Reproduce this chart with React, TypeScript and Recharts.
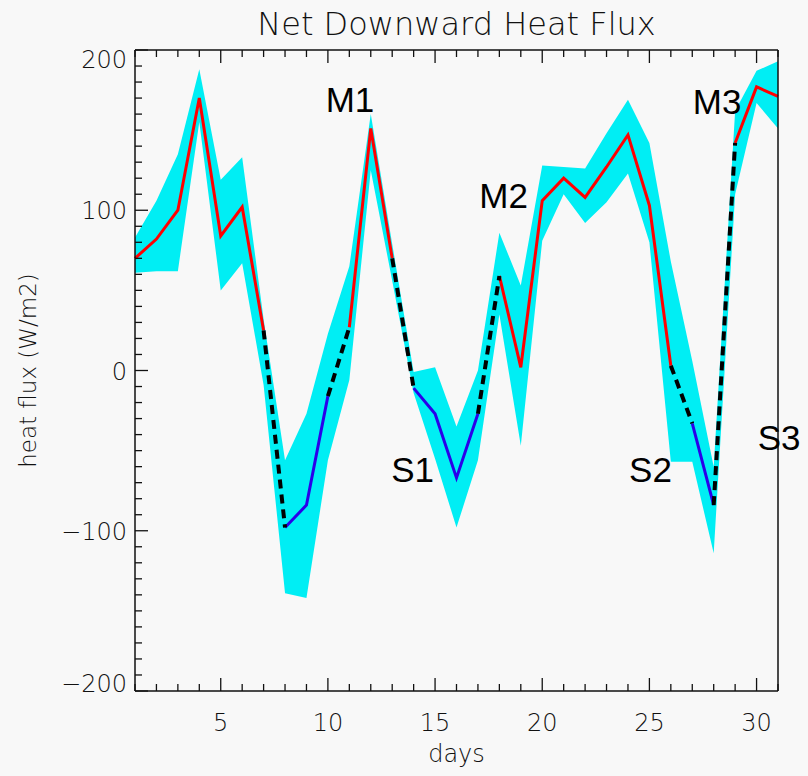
import React from "react";
import { ComposedChart, Area, Line, XAxis, YAxis, ReferenceDot } from "recharts";

// daily values
const days = [1, 2, 3, 4, 5, 6, 7, 8, 9, 10, 11, 12, 13, 14, 15, 16, 17, 18, 19, 20, 21, 22, 23, 24, 25, 26, 27, 28, 29, 30, 31];
const flux = [70, 82, 100, 170, 84, 102, 25, -98, -84, -16, 27, 151, 70, -11, -27, -67, -27, 59, 2, 106, 120, 108, 127, 147, 103, 3, -33, -84, 142, 177, 171];
const fluxHigh = [83, 106, 135, 188, 119, 133, 32, -56, -27, 23, 65, 160, 79, -1, 2, -35, 0, 86, 53, 128, 127, 126, 148, 169, 142, 68, 6, -60, 162, 187, 193];
const fluxLow = [61, 62, 62, 155, 50, 67, -9, -139, -142, -56, -6, 125, 56, -14, -55, -98, -56, 35, -47, 81, 110, 92, 105, 123, 80, -57, -57, -114, 110, 167, 151];

// phases: M (red), S (blue), transitions (black dashed)
const mSpans = [[1, 7], [11, 13], [18, 26], [29, 31]];
const sSpans = [[8, 10], [14, 17], [27, 28]];
const gapSpans = [[7, 8], [10, 11], [13, 14], [17, 18], [26, 27], [28, 29]];

const xMajor = [5, 10, 15, 20, 25, 30];
const yMajor = [-200, -100, 0, 100, 200];

const phaseLabels = [
  { text: "M1", day: 11.03, value: 169 },
  { text: "M2", day: 18.2, value: 109 },
  { text: "M3", day: 28.16, value: 168 },
  { text: "S1", day: 13.95, value: -62 },
  { text: "S2", day: 25.05, value: -62 },
  { text: "S3", day: 31.05, value: -42 },
];

const inSpan = (d: number, spans: number[][]) => spans.some(([a, b]) => d >= a && d <= b);

const data = days.map((d, i) => {
  const row: any = { day: d, band: [fluxLow[i], fluxHigh[i]], g0: null, g1: null };
  row.m = inSpan(d, mSpans) ? flux[i] : null;
  row.s = inSpan(d, sSpans) ? flux[i] : null;
  gapSpans.forEach(([a, b], k) => {
    if (d >= a && d <= b) row[k % 2 ? "g1" : "g0"] = flux[i];
  });
  return row;
});

const dayTicks = days;
const yTicks: number[] = [];
for (let v = -200; v <= 200; v += 10) yTicks.push(v);

const INK = "#111";
const FONT = "'DejaVu Sans', sans-serif";
const fmt = (v: number) => (v < 0 ? "\u2212" + Math.abs(v) : String(v));

const BottomTick = (props: any) => {
  const { x, y, payload } = props;
  const major = xMajor.includes(payload.value);
  return (
    <g>
      <line x1={x} y1={y} x2={x} y2={y - (major ? 13 : 7)} stroke={INK} strokeWidth={1.3} />
      {major && (
        <text x={x} y={y + 40} textAnchor="middle" fontFamily={FONT} fontWeight={200} fontSize={24} fill={INK}>
          {payload.value}
        </text>
      )}
    </g>
  );
};

const TopTick = (props: any) => {
  const { x, y, payload } = props;
  const major = xMajor.includes(payload.value);
  return <line x1={x} y1={y} x2={x} y2={y + (major ? 13 : 7)} stroke={INK} strokeWidth={1.3} />;
};

const LeftTick = (props: any) => {
  const { x, y, payload } = props;
  const major = yMajor.includes(payload.value);
  const dy = payload.value === 200 ? 18 : payload.value === -200 ? 1 : 9;
  return (
    <g>
      <line x1={x} y1={y} x2={x + (major ? 13 : 7)} y2={y} stroke={INK} strokeWidth={1.3} />
      {major && (
        <text x={x - 8} y={y + dy} textAnchor="end" fontFamily={FONT} fontWeight={200} fontSize={24} fill={INK}>
          {fmt(payload.value)}
        </text>
      )}
    </g>
  );
};

const RightTick = (props: any) => {
  const { x, y, payload } = props;
  const major = yMajor.includes(payload.value);
  return <line x1={x} y1={y} x2={x - (major ? 13 : 7)} y2={y} stroke={INK} strokeWidth={1.3} />;
};

const axisLine = { stroke: INK, strokeWidth: 1.5 };

export default function App() {
  return (
    <div style={{ position: "absolute", left: 0, top: 0, width: 808, height: 776, background: "#f8f8f8" }}>
      <ComposedChart width={808} height={776} data={data} margin={{ top: 49, right: 29, bottom: 0, left: 0 }}>
        <XAxis
          xAxisId="b"
          dataKey="day"
          type="number"
          domain={[1, 31]}
          ticks={dayTicks}
          interval={0}
          height={85}
          axisLine={axisLine}
          tickLine={false}
          tickSize={0}
          tickMargin={0}
          tick={<BottomTick />}
          label={{ value: "days", position: "insideBottom", offset: 14, fontFamily: FONT, fontWeight: 200, fontSize: 24, fill: INK }}
        />
        <XAxis
          xAxisId="t"
          orientation="top"
          dataKey="day"
          type="number"
          domain={[1, 31]}
          ticks={dayTicks}
          interval={0}
          height={1}
          axisLine={axisLine}
          tickLine={false}
          tickSize={0}
          tickMargin={0}
          tick={<TopTick />}
          label={{ value: "Net Downward Heat Flux", position: "top", offset: 14, fontFamily: FONT, fontWeight: 200, fontSize: 32, fill: INK }}
        />
        <YAxis
          yAxisId="l"
          type="number"
          domain={[-200, 200]}
          ticks={yTicks}
          interval={0}
          width={135}
          axisLine={axisLine}
          tickLine={false}
          tickSize={0}
          tickMargin={0}
          tick={<LeftTick />}
          label={{
            value: "heat flux (W/m2)",
            angle: -90,
            position: "insideLeft",
            offset: 28,
            style: { textAnchor: "middle" },
            fontFamily: FONT,
            fontWeight: 200,
            fontSize: 23,
            fill: INK,
          }}
        />
        <YAxis
          yAxisId="r"
          orientation="right"
          type="number"
          domain={[-200, 200]}
          ticks={yTicks}
          interval={0}
          width={1}
          axisLine={axisLine}
          tickLine={false}
          tickSize={0}
          tickMargin={0}
          tick={<RightTick />}
        />
        <Area
          xAxisId="b"
          yAxisId="l"
          type="linear"
          dataKey="band"
          fill="#00eef4"
          fillOpacity={1}
          stroke="none"
          isAnimationActive={false}
        />
        <Line xAxisId="b" yAxisId="l" type="linear" dataKey="m" stroke="#ff0000" strokeWidth={3} dot={false} isAnimationActive={false} />
        <Line xAxisId="b" yAxisId="l" type="linear" dataKey="s" stroke="#2a00ea" strokeWidth={3} dot={false} isAnimationActive={false} />
        <Line xAxisId="b" yAxisId="l" type="linear" dataKey="g0" stroke="#000000" strokeWidth={4} strokeDasharray="9 6" dot={false} isAnimationActive={false} />
        <Line xAxisId="b" yAxisId="l" type="linear" dataKey="g1" stroke="#000000" strokeWidth={4} strokeDasharray="9 6" dot={false} isAnimationActive={false} />
        {phaseLabels.map((p) => (
          <ReferenceDot
            key={p.text}
            xAxisId="b"
            yAxisId="l"
            x={p.day}
            y={p.value}
            r={1}
            fill="none"
            stroke="none"
            ifOverflow="visible"
            label={{ value: p.text, position: "center", fontFamily: "'Liberation Sans', sans-serif", fontSize: 35, fill: "#000" }}
          />
        ))}
      </ComposedChart>
    </div>
  );
}
